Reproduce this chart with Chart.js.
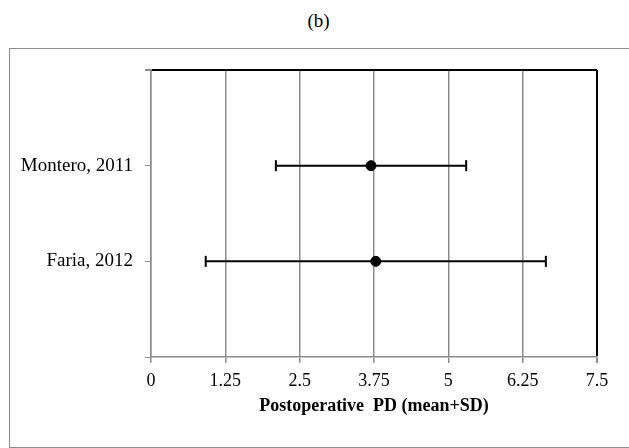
<!DOCTYPE html>
<html>
<head>
<meta charset="utf-8">
<script src="https://cdn.jsdelivr.net/npm/chart.js@4"></script>
<style>
  html, body { margin: 0; padding: 0; background: #fff; }
  #wrap { position: relative; width: 629px; height: 448px; }
  #label-b {
    position: absolute; left: 4px; top: 10px; width: 629px; text-align: center;
    font: 19px "Liberation Serif", serif; color: #000;
  }
  #frame {
    position: absolute; left: 9px; top: 48px; width: 620px; height: 400px;
    box-sizing: border-box; border: 1.5px solid #8c8c8c; border-right: none;
  }
  canvas { position: absolute; left: 0; top: 0; }
</style>
</head>
<body>
<div id="wrap">
  <div id="label-b">(b)</div>
  <div id="frame"></div>
  <canvas id="forest" width="629" height="448"></canvas>
</div>
<script>
// studies, top to bottom
const studies = ['Montero, 2011', 'Faria, 2012'];
const rowPos = [2, 1];            // position on the y axis
const means = [3.70, 3.78];       // postoperative PD mean
const sds = [1.60, 2.86];         // standard deviation
const xTicks = [0, 1.25, 2.5, 3.75, 5, 6.25, 7.5];

const serif = '"Liberation Serif", "Times New Roman", serif';

// mean points
const meanData = studies.map((s, i) => ({ x: means[i], y: rowPos[i] }));

// error bars, one line per study with caps at both ends
const barSets = studies.map((s, i) => ({
  label: s + ' SD',
  data: [
    { x: means[i] - sds[i], y: rowPos[i] },
    { x: means[i] + sds[i], y: rowPos[i] }
  ],
  showLine: true,
  borderColor: '#000',
  borderWidth: 2,
  pointStyle: 'line',
  pointRotation: 90,
  pointRadius: 5.5,
  pointBorderColor: '#000',
  pointBorderWidth: 2
}));

var ctx = document.getElementById('forest').getContext('2d');

new Chart(ctx, {
  type: 'scatter',
  data: {
    datasets: [{
      label: 'Mean',
      data: meanData,
      pointStyle: 'circle',
      pointRadius: 5,
      backgroundColor: '#000',
      borderColor: '#000'
    }].concat(barSets)
  },
  options: {
    responsive: false,
    animation: false,
    events: [],
    layout: { padding: { top: 70, right: 32, left: 0, bottom: 0 } },
    plugins: {
      legend: { display: false },
      tooltip: { enabled: false }
    },
    scales: {
      x: {
        type: 'linear',
        min: 0,
        max: 7.5,
        afterBuildTicks: function(axis) {
          axis.ticks = xTicks.map(v => ({ value: v }));
        },
        afterFit: function(axis) { axis.height = 91; },
        border: { color: '#8c8c8c', width: 1.5 },
        grid: {
          color: c => (c.tick && c.tick.value === 7.5) ? '#000' : '#8c8c8c',
          lineWidth: c => (c.tick && c.tick.value === 7.5) ? 2 : 1.5,
          tickColor: '#8c8c8c',
          tickLength: 6
        },
        ticks: {
          color: '#000',
          padding: 7,
          font: { family: serif, size: 18 },
          callback: v => String(v)
        },
        title: {
          display: true,
          text: 'Postoperative  PD (mean+SD)',
          color: '#000',
          font: { family: serif, size: 18, weight: 'bold' },
          padding: { top: 0, bottom: 31 }
        }
      },
      y: {
        type: 'linear',
        min: 0,
        max: 3,
        ticks: {
          stepSize: 1,
          color: '#000',
          padding: 12,
          font: { family: serif, size: 19 },
          callback: function(v) {
            const i = rowPos.indexOf(v);
            return i >= 0 ? studies[i] : '';
          }
        },
        afterFit: function(axis) { axis.width = 151; },
        border: { color: '#8c8c8c', width: 1.5 },
        grid: {
          color: c => (c.tick && c.tick.value === 3) ? '#000' : 'rgba(0,0,0,0)',
          lineWidth: c => (c.tick && c.tick.value === 3) ? 2 : 1,
          tickColor: '#8c8c8c',
          tickLength: 6
        }
      }
    }
  }
});
</script>
</body>
</html>
